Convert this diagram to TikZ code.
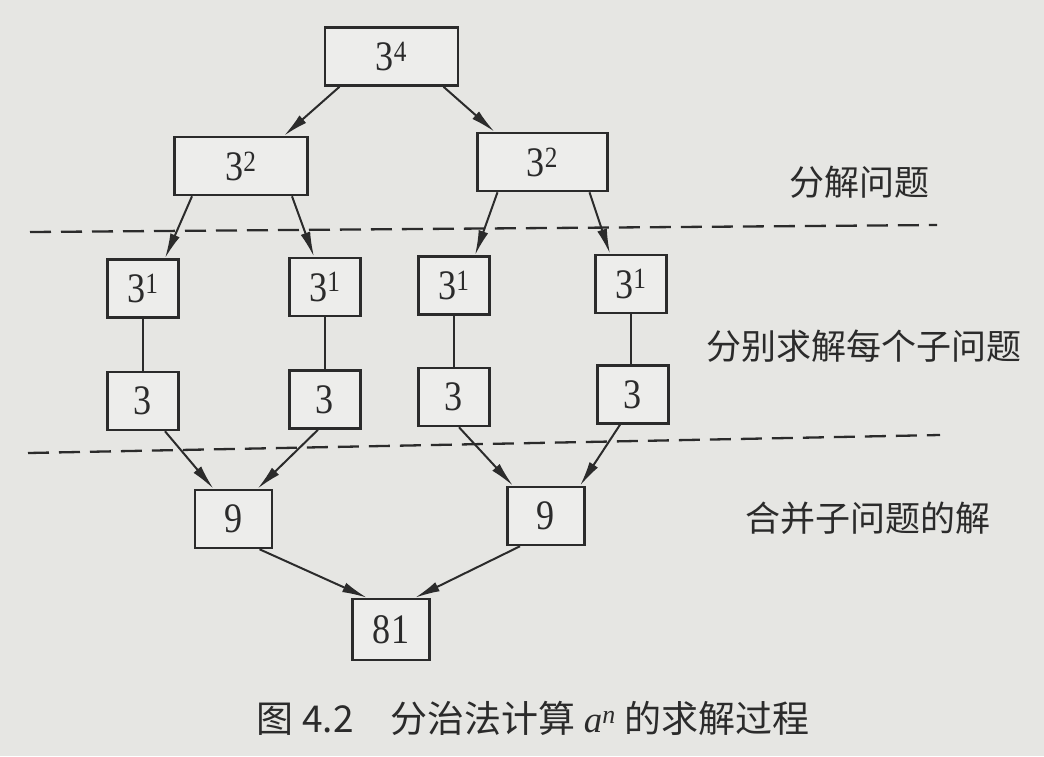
\documentclass[tikz,border=0pt]{standalone}
\usepackage{fontspec}
\setmainfont{Liberation Serif}
\newfontfamily\boxfont[FakeStretch=0.86]{Liberation Serif}
\newfontfamily\cjk{Noto Sans CJK SC}
\usetikzlibrary{arrows.meta,positioning}
\definecolor{paper}{HTML}{E6E6E3}
\definecolor{ink}{HTML}{2B2B2B}

\begin{document}
\begin{tikzpicture}[
            x=1pt, y=-1pt,
            box/.style={rectangle, draw=ink, line width=2.5pt, fill=paper!70!white, minimum height=58pt, inner sep=0pt, text=ink, font=\boxfont\fontsize{42}{44}\selectfont},
            widebox/.style={box, minimum width=133pt},
            smallbox/.style={box, minimum width=71pt},
            midbox/.style={box, minimum width=77pt},
            arrow/.style={-{Latex[length=25pt,width=10pt]}, line width=2pt, draw=ink},
            link/.style={line width=2pt, draw=ink},
            stage/.style={font=\cjk\fontsize{35}{40}\selectfont, text=ink},
            divider/.style={dash pattern=on 21pt off 10pt, line width=2.3pt, draw=ink}
        ]

        % Page
        \fill[paper] (0,0) rectangle (1044,756);
        \useasboundingbox (0,0) rectangle (1044,756);

        % Divide
        \node[widebox] (top) at (391.5,56.5) {3\textsuperscript{4}};
        \node[widebox] (lsq) at (241,166) {3\textsuperscript{2}};
        \node[widebox, minimum width=130pt] (rsq) at (542.5,162) {3\textsuperscript{2}};

        % Sub-problems
        \node[smallbox] (la) at (143,288.5) {3\textsuperscript{1}};
        \node[smallbox] (lb) at (325,287) {3\textsuperscript{1}};
        \node[smallbox] (rc) at (454,285.5) {3\textsuperscript{1}};
        \node[smallbox] (rd) at (631,284) {3\textsuperscript{1}};
        \node[smallbox, below=52pt of la] (laval) {3};
        \node[smallbox, below=52pt of lb] (lbval) {3};
        \node[smallbox, below=51pt of rc] (rcval) {3};
        \node[smallbox, below=50pt of rd, xshift=2pt] (rdval) {3};

        % Combine
        \node[midbox] (lnine) at (233.5,519) {9};
        \node[midbox] (rnine) at (546,516) {9};
        \node[midbox, minimum height=61pt] (res) at (391,629.5) {81};

        % Arrows
        \draw[arrow] ([xshift=-52pt]top.south) -- ([xshift=43pt]lsq.north);
        \draw[arrow] ([xshift=52pt]top.south) -- ([xshift=-48pt]rsq.north);
        \draw[arrow] ([xshift=-49pt]lsq.south) -- ([xshift=22pt]la.north);
        \draw[arrow] ([xshift=51pt]lsq.south) -- ([xshift=-11pt]lb.north);
        \draw[arrow] ([xshift=-45pt]rsq.south) -- ([xshift=21pt]rc.north);
        \draw[arrow] ([xshift=47pt]rsq.south) -- ([xshift=-21pt]rd.north);
        \draw[link] (la) -- (laval);
        \draw[link] (lb) -- (lbval);
        \draw[link] (rc) -- (rcval);
        \draw[link] (rd.south) -- (rdval.north -| rd.south);
        \draw[arrow] ([xshift=22pt]laval.south) -- ([xshift=-20pt]lnine.north);
        \draw[arrow] ([xshift=-7pt]lbval.south) -- ([xshift=24pt]lnine.north);
        \draw[arrow] ([xshift=5pt]rcval.south) -- ([xshift=-33pt]rnine.north);
        \draw[arrow] ([xshift=-13pt]rdval.south) -- ([xshift=34pt]rnine.north);
        \draw[arrow] ([xshift=26pt]lnine.south) -- ([xshift=-24pt]res.north);
        \draw[arrow] ([xshift=-26pt]rnine.south) -- ([xshift=24pt]res.north);

        % Stage dividers
        \draw[divider] (30,232) -- (937,225);
        \draw[divider] (28,453) -- (940,435);

        % Labels
        \node[stage] (split) at (859,182) {分解问题};
        \node[stage] (solve) at (864,346) {分别求解每个子问题};
        \node[stage] (merge) at (868,518) {合并子问题的解};
        \node[font=\cjk\fontsize{37}{40}\selectfont, text=ink] (caption) at (533,718) {图 4.2\quad 分治法计算 {\rmfamily\itshape a}\textsuperscript{\rmfamily\itshape n} 的求解过程};

        \end{tikzpicture}
\end{document}
